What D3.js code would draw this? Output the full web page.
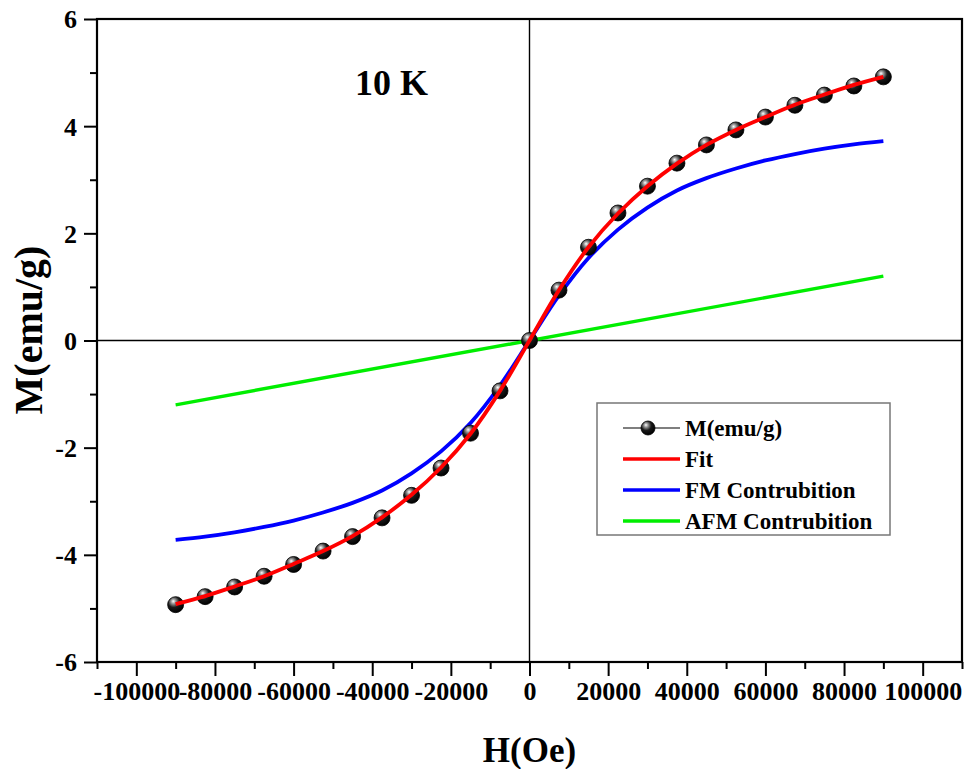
<!DOCTYPE html>
<html>
<head>
<meta charset="utf-8">
<script src="https://cdn.jsdelivr.net/npm/d3@7"></script>
<style>
  body { margin: 0; background: #fff; }
  svg text { font-family: "Liberation Serif", "Times New Roman", serif; font-weight: bold; }
</style>
</head>
<body>
<svg id="chart" width="968" height="769"></svg>
<script>
// field values (Oe) of the measured points
var field = [-90000, -82500, -75000, -67500, -60000, -52500, -45000, -37500, -30000, -22500, -15000, -7500,
             0, 7500, 15000, 22500, 30000, 37500, 45000, 52500, 60000, 67500, 75000, 82500, 90000];
// measured magnetization (emu/g)
var m_data = [-4.93, -4.78, -4.60, -4.40, -4.18, -3.93, -3.66, -3.31, -2.89, -2.38, -1.73, -0.94,
              0, 0.94, 1.74, 2.38, 2.88, 3.31, 3.65, 3.93, 4.17, 4.39, 4.58, 4.75, 4.92];
// fit curve
var m_fit = [-4.92, -4.77, -4.59, -4.40, -4.17, -3.93, -3.65, -3.30, -2.88, -2.37, -1.74, -0.94,
             0, 0.94, 1.74, 2.37, 2.88, 3.30, 3.65, 3.93, 4.17, 4.40, 4.59, 4.77, 4.92];
// FM contribution
var m_fm = [-3.72, -3.66, -3.58, -3.48, -3.36, -3.21, -3.03, -2.80, -2.48, -2.07, -1.54, -0.84,
            0, 0.84, 1.54, 2.07, 2.48, 2.80, 3.03, 3.21, 3.36, 3.48, 3.58, 3.66, 3.72];
// AFM contribution (straight line)
var afm_field = [-90000, 90000];
var m_afm = [-1.20, 1.20];

var x_ticks = [-100000, -80000, -60000, -40000, -20000, 0, 20000, 40000, 60000, 80000, 100000];
var x_minor = [-110000, -90000, -70000, -50000, -30000, -10000, 10000, 30000, 50000, 70000, 90000, 110000];
var y_ticks = [-6, -4, -2, 0, 2, 4, 6];
var y_minor = [-5, -3, -1, 1, 3, 5];

var legend_items = ["M(emu/g)", "Fit", "FM Contrubition", "AFM Contrubition"];

var plot_l = 97, plot_r = 962, plot_t = 19, plot_b = 662;

var svg = d3.select("#chart");

var x = d3.scaleLinear().domain([-110000, 110000]).range([plot_l, plot_r]);
var y = d3.scaleLinear().domain([-6, 6]).range([plot_b, plot_t]);

// sphere look for the markers
var defs = svg.append("defs");
var grad = defs.append("radialGradient").attr("id", "ball")
  .attr("cx", "40%").attr("cy", "35%").attr("r", "65%")
  .attr("fx", "35%").attr("fy", "28%");
grad.append("stop").attr("offset", "0%").attr("stop-color", "#ffffff");
grad.append("stop").attr("offset", "22%").attr("stop-color", "#9a9a9a");
grad.append("stop").attr("offset", "55%").attr("stop-color", "#1a1a1a");
grad.append("stop").attr("offset", "100%").attr("stop-color", "#000000");

function plain(d) { return String(d); }

// axes
var x_axis = svg.append("g").attr("transform", "translate(0," + plot_b + ")")
  .call(d3.axisBottom(x).tickValues(x_ticks).tickSize(14).tickPadding(6).tickFormat(plain));
svg.append("g").attr("transform", "translate(0," + plot_b + ")")
  .call(d3.axisBottom(x).tickValues(x_minor).tickSize(7).tickFormat(""));
var y_axis = svg.append("g").attr("transform", "translate(" + plot_l + ",0)")
  .call(d3.axisLeft(y).tickValues(y_ticks).tickSize(13).tickPadding(7).tickFormat(plain));
svg.append("g").attr("transform", "translate(" + plot_l + ",0)")
  .call(d3.axisLeft(y).tickValues(y_minor).tickSize(7).tickFormat(""));

svg.selectAll(".domain").remove();
svg.selectAll(".tick line").attr("stroke", "#000").attr("stroke-width", 2);
x_axis.selectAll("text").attr("font-size", "26px").attr("fill", "#000").attr("dy", "0.7em");
y_axis.selectAll("text").attr("font-size", "26px").attr("fill", "#000").attr("dy", "0.34em");

// frame
svg.append("rect")
  .attr("x", plot_l).attr("y", plot_t)
  .attr("width", plot_r - plot_l).attr("height", plot_b - plot_t)
  .attr("fill", "none").attr("stroke", "#000").attr("stroke-width", 2.2);

// zero lines
svg.append("line").attr("x1", x(0)).attr("x2", x(0)).attr("y1", plot_t).attr("y2", plot_b)
  .attr("stroke", "#000").attr("stroke-width", 1.4);
svg.append("line").attr("x1", plot_l).attr("x2", plot_r).attr("y1", y(0)).attr("y2", y(0))
  .attr("stroke", "#000").attr("stroke-width", 1.4);

var line = d3.line()
  .x(function(d) { return x(d[0]); })
  .y(function(d) { return y(d[1]); })
  .curve(d3.curveCatmullRom.alpha(0.5));

svg.append("path").datum(d3.zip(afm_field, m_afm))
  .attr("d", line).attr("fill", "none").attr("stroke", "#00ee00").attr("stroke-width", 3.4);

svg.append("path").datum(d3.zip(field, m_fm))
  .attr("d", line).attr("fill", "none").attr("stroke", "#0000ff").attr("stroke-width", 3.8);

svg.selectAll("circle.pt").data(d3.zip(field, m_data)).enter()
  .append("circle").attr("class", "pt")
  .attr("cx", function(d) { return x(d[0]); })
  .attr("cy", function(d) { return y(d[1]); })
  .attr("r", 8)
  .attr("fill", "url(#ball)")
  .attr("stroke", "#000").attr("stroke-width", 0.8);

svg.append("path").datum(d3.zip(field, m_fit))
  .attr("d", line).attr("fill", "none").attr("stroke", "#ff0000").attr("stroke-width", 3.8);

// labels
svg.append("text").attr("x", 355).attr("y", 95).attr("font-size", "36px").text("10 K");

svg.append("text").attr("x", x(0)).attr("y", 762).attr("text-anchor", "middle")
  .attr("font-size", "35px").text("H(Oe)");

svg.append("text").attr("transform", "translate(42,330) rotate(-90)")
  .attr("text-anchor", "middle").attr("font-size", "40px").text("M(emu/g)");

// legend
var lg = svg.append("g");
lg.append("rect").attr("x", 597).attr("y", 403).attr("width", 293).attr("height", 132)
  .attr("fill", "#fff").attr("stroke", "#777").attr("stroke-width", 1.5);

var legend_colors = ["#000", "#ff0000", "#0000ff", "#00ee00"];
for (var i = 0; i < legend_items.length; i++) {
  var ly = 428 + i * 31;
  lg.append("line").attr("x1", 623).attr("x2", 680).attr("y1", ly).attr("y2", ly)
    .attr("stroke", legend_colors[i]).attr("stroke-width", i == 0 ? 1.2 : 3.5);
  if (i == 0) {
    lg.append("circle").attr("cx", 648).attr("cy", ly).attr("r", 7)
      .attr("fill", "url(#ball)").attr("stroke", "#000").attr("stroke-width", 0.8);
  }
  lg.append("text").attr("x", 685).attr("y", ly + 8).attr("font-size", "23px").text(legend_items[i]);
}
</script>
</body>
</html>
